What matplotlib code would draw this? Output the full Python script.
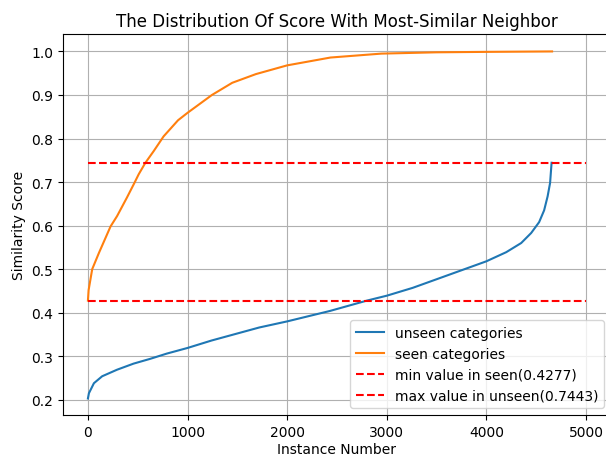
import matplotlib
matplotlib.use("Agg")
import matplotlib.pyplot as plt
import numpy as np

# unseen categories: sorted similarity score with most-similar neighbor
unseen_x = [0, 10, 60, 143, 292, 458, 625, 791, 1000, 1240, 1480, 1720, 2000,
            2430, 2800, 3000, 3260, 3600, 4000, 4200, 4350, 4450, 4530, 4580,
            4615, 4640, 4655]
unseen_y = [0.203, 0.215, 0.238, 0.254, 0.269, 0.283, 0.294, 0.306, 0.319,
            0.336, 0.351, 0.366, 0.380, 0.404, 0.4277, 0.439, 0.457, 0.485,
            0.518, 0.539, 0.560, 0.583, 0.608, 0.635, 0.667, 0.698, 0.7443]

# seen categories
seen_x = [0, 7, 43, 110, 227, 293, 393, 460, 510, 577, 660, 760, 905, 1000,
          1245, 1449, 1687, 2000, 2435, 2946, 3500, 4000, 4660]
seen_y = [0.4277, 0.452, 0.500, 0.537, 0.598, 0.622, 0.665, 0.695, 0.718,
          0.7443, 0.771, 0.805, 0.842, 0.859, 0.900, 0.928, 0.948, 0.968,
          0.986, 0.995, 0.998, 0.999, 1.0]

min_seen = 0.4277
max_unseen = 0.7443

fig = plt.figure(figsize=(6.06, 4.56), dpi=100)
ax = fig.add_axes([0.104, 0.0877, 0.904, 0.8355])

ax.plot(unseen_x, unseen_y, label='unseen categories')
ax.plot(seen_x, seen_y, label='seen categories')
ax.hlines(min_seen, 0, 5000, colors='red', linestyles='--',
          label='min value in seen(%.4f)' % min_seen)
ax.hlines(max_unseen, 0, 5000, colors='red', linestyles='--',
          label='max value in unseen(%.4f)' % max_unseen)

ax.set_xlim(-250, 5250)
ax.set_ylim(0.165, 1.040)
ax.set_xticks([0, 1000, 2000, 3000, 4000, 5000])
ax.grid(True)
ax.legend(loc='lower right')
ax.set_title('The Distribution Of Score With Most-Similar Neighbor')
ax.set_xlabel('Instance Number', labelpad=2)
ax.set_ylabel('Similarity Score')

fig.savefig('out.png', dpi=100)
